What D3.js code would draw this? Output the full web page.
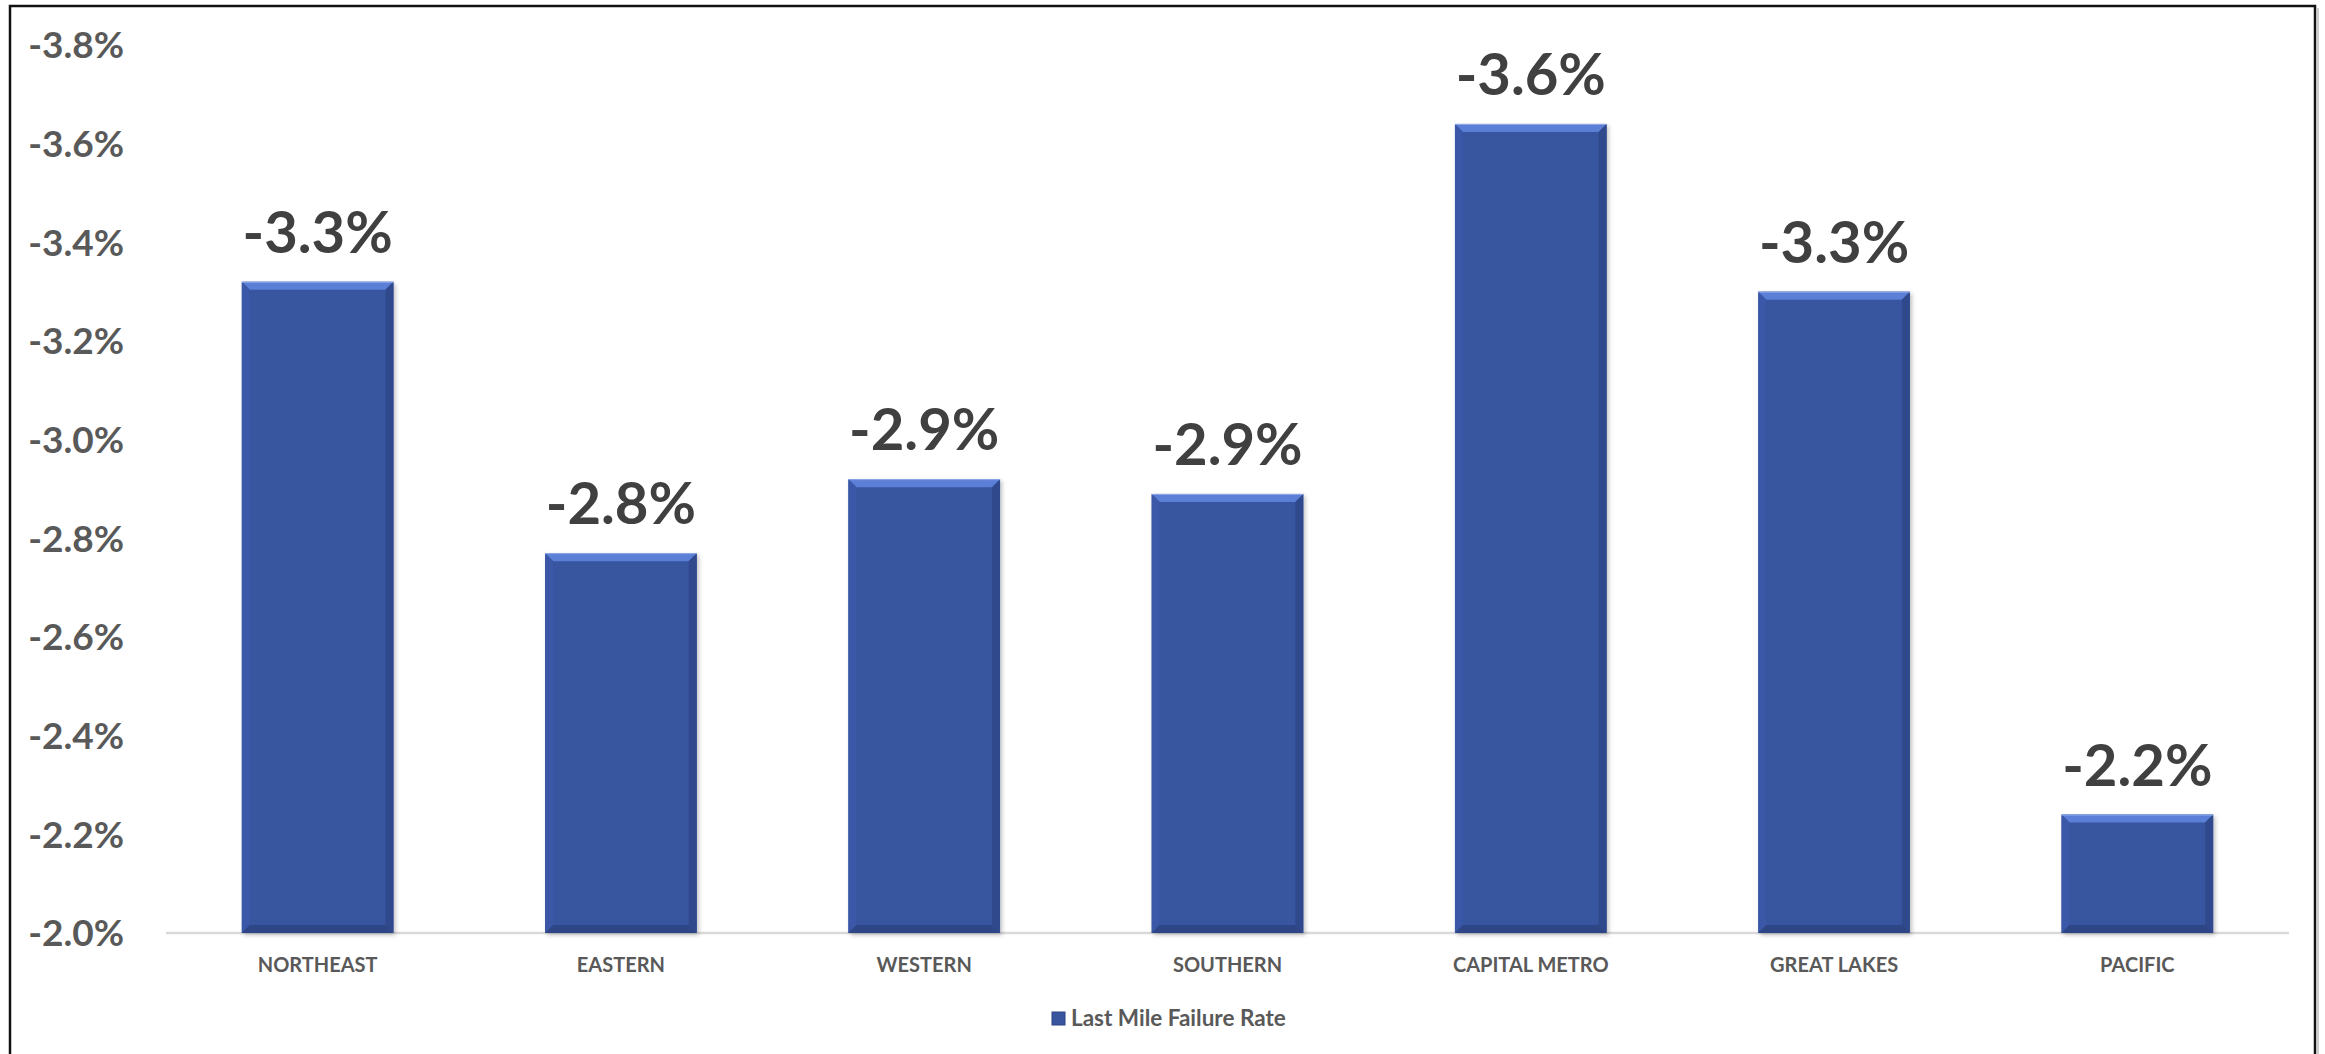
<!DOCTYPE html>
<html><head><meta charset="utf-8">
<script src="https://cdn.jsdelivr.net/npm/d3@7"></script>
<style>
html,body{margin:0;padding:0;background:#fff;}
svg{display:block;}
text{font-family:Lato,"Open Sans",sans-serif;font-weight:700;}
</style></head>
<body>
<svg id="chart" width="2325" height="1054"></svg>
<script>
const categories = ["NORTHEAST","EASTERN","WESTERN","SOUTHERN","CAPITAL METRO","GREAT LAKES","PACIFIC"];
const values = [-3.32, -2.77, -2.92, -2.89, -3.64, -3.30, -2.24];
const dataLabels = ["-3.3%","-2.8%","-2.9%","-2.9%","-3.6%","-3.3%","-2.2%"];
const yTicks = [-2.0,-2.2,-2.4,-2.6,-2.8,-3.0,-3.2,-3.4,-3.6,-3.8];
const seriesName = "Last Mile Failure Rate";

const svg = d3.select("#chart");
const W = 2325, H = 1054;
const plot = {left:166, right:2289, top:45, bottom:933};

// frame
svg.append("rect").attr("x",10).attr("y",6).attr("width",2305).attr("height",H+20)
  .attr("fill","none").attr("stroke","#111").attr("stroke-width",2.5);
svg.append("line").attr("x1",2318).attr("x2",2318).attr("y1",8).attr("y2",H)
  .attr("stroke","#bbb").attr("stroke-width",1.5);

const x = d3.scaleBand().domain(categories).range([plot.left, plot.right])
  .paddingInner(0.5).paddingOuter(0.25);
const y = d3.scaleLinear().domain([-2.0,-3.8]).range([plot.bottom, plot.top]);

const defs = svg.append("defs");
const f = defs.append("filter").attr("id","sh").attr("x","-10%").attr("y","-10%").attr("width","130%").attr("height","130%");
f.append("feDropShadow").attr("dx",2).attr("dy",2).attr("stdDeviation",2).attr("flood-color","#000").attr("flood-opacity",0.25);

// y axis labels
const yAxis = d3.axisLeft(y).tickValues(yTicks).tickSize(0).tickPadding(0)
  .tickFormat(d => (d < 0 ? "-" : "") + Math.abs(d).toFixed(1) + "%");
const ya = svg.append("g").attr("transform","translate(124,0)").call(yAxis);
ya.select(".domain").remove();
ya.selectAll("text").attr("font-size",37).attr("fill","#595959")
  .attr("font-family","Lato,sans-serif").attr("font-weight",700).attr("dy","0.35em");

// baseline
svg.append("line").attr("x1",plot.left).attr("x2",plot.right)
  .attr("y1",y(-2.0)).attr("y2",y(-2.0)).attr("stroke","#d9d9d9").attr("stroke-width",2.5);

// bars
const data = categories.map((c,i)=>({c, v:values[i], l:dataLabels[i]}));
const b = 8;
const g = svg.selectAll("g.bar").data(data).join("g").attr("class","bar");
g.each(function(d){
  const gg = d3.select(this);
  const x0 = x(d.c), x1 = x0 + x.bandwidth();
  const y0 = y(d.v), y1 = y(-2.0);
  gg.append("rect").attr("x",x0).attr("y",y0).attr("width",x1-x0).attr("height",y1-y0)
    .attr("fill","#3955a0").attr("filter","url(#sh)");
  gg.append("polygon").attr("points",[[x0,y0],[x1,y0],[x1-b,y0+b],[x0+b,y0+b]].join(" "))
    .attr("fill","#5b7fd6");
  gg.append("polygon").attr("points",[[x0,y0],[x0+b,y0+b],[x0+b,y1-b],[x0,y1]].join(" "))
    .attr("fill","#3b58a8");
  gg.append("polygon").attr("points",[[x1,y0],[x1,y1],[x1-b,y1-b],[x1-b,y0+b]].join(" "))
    .attr("fill","#30498c");
  gg.append("polygon").attr("points",[[x0,y1],[x0+b,y1-b],[x1-b,y1-b],[x1,y1]].join(" "))
    .attr("fill","#2e4686");
  gg.append("line").attr("x1",x0).attr("x2",x1).attr("y1",y0+0.5).attr("y2",y0+0.5)
    .attr("stroke","#8ea8e8").attr("stroke-width",1);
  gg.append("text").attr("x",(x0+x1)/2).attr("y",y0-29).attr("text-anchor","middle")
    .attr("font-size",58).attr("fill","#404040").text(d.l);
});

// x labels
const xAxis = d3.axisBottom(x).tickSize(0).tickPadding(0);
const xa = svg.append("g").attr("transform",`translate(0,${plot.bottom})`).call(xAxis);
xa.select(".domain").remove();
xa.selectAll("text").attr("font-size",20).attr("fill","#595959")
  .attr("font-family","Lato,sans-serif").attr("font-weight",700)
  .attr("y",32).attr("dy","0.35em");

// legend
const lg = svg.append("g");
lg.append("rect").attr("x",1052).attr("y",1012).attr("width",13).attr("height",13)
  .attr("fill","#3955a0").attr("stroke","#2c4482").attr("stroke-width",1);
lg.append("text").attr("x",1071).attr("y",1018.5).attr("dy","0.35em")
  .attr("font-size",22.5).attr("fill","#595959").text(seriesName);
</script>
</body></html>
